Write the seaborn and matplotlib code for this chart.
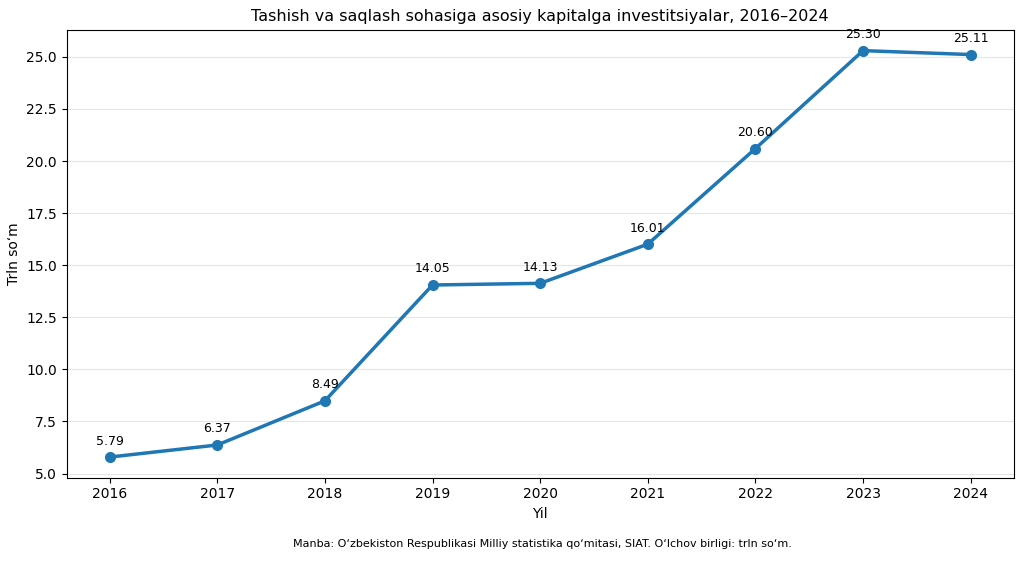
import matplotlib
matplotlib.use("Agg")
import pandas as pd
import seaborn as sns
import matplotlib.pyplot as plt

years = [2016, 2017, 2018, 2019, 2020, 2021, 2022, 2023, 2024]
values = [5.79, 6.37, 8.49, 14.05, 14.13, 16.01, 20.60, 25.30, 25.11]
df = pd.DataFrame({"Yil": [str(y) for y in years], "Qiymat": values})

fig, ax = plt.subplots(figsize=(10.24, 5.62), dpi=100)
sns.lineplot(data=df, x="Yil", y="Qiymat", ax=ax, color="#1f77b4",
             linewidth=2.5, marker="o", markersize=8, markeredgewidth=0)
for i, v in enumerate(values):
    ax.annotate(f"{v:.2f}", (i, v), textcoords="offset points", xytext=(0, 9),
                ha="center", fontsize=9)

ax.set_ylim(4.8, 26.3)
ax.set_yticks([5.0, 7.5, 10.0, 12.5, 15.0, 17.5, 20.0, 22.5, 25.0])
ax.yaxis.grid(True, color="#e6e6e6", linewidth=0.8)
ax.set_axisbelow(True)
ax.set_title("Tashish va saqlash sohasiga asosiy kapitalga investitsiyalar, 2016–2024", fontsize=11.5)
ax.set_xlabel("Yil")
ax.set_ylabel("Trln so‘m")
fig.text(0.53, 0.027, "Manba: O‘zbekiston Respublikasi Milliy statistika qo‘mitasi, SIAT. O‘lchov birligi: trln so‘m.",
         ha="center", fontsize=8)
plt.subplots_adjust(left=0.065, right=0.99, top=0.947, bottom=0.15)
fig.savefig("out.png", dpi=100)
